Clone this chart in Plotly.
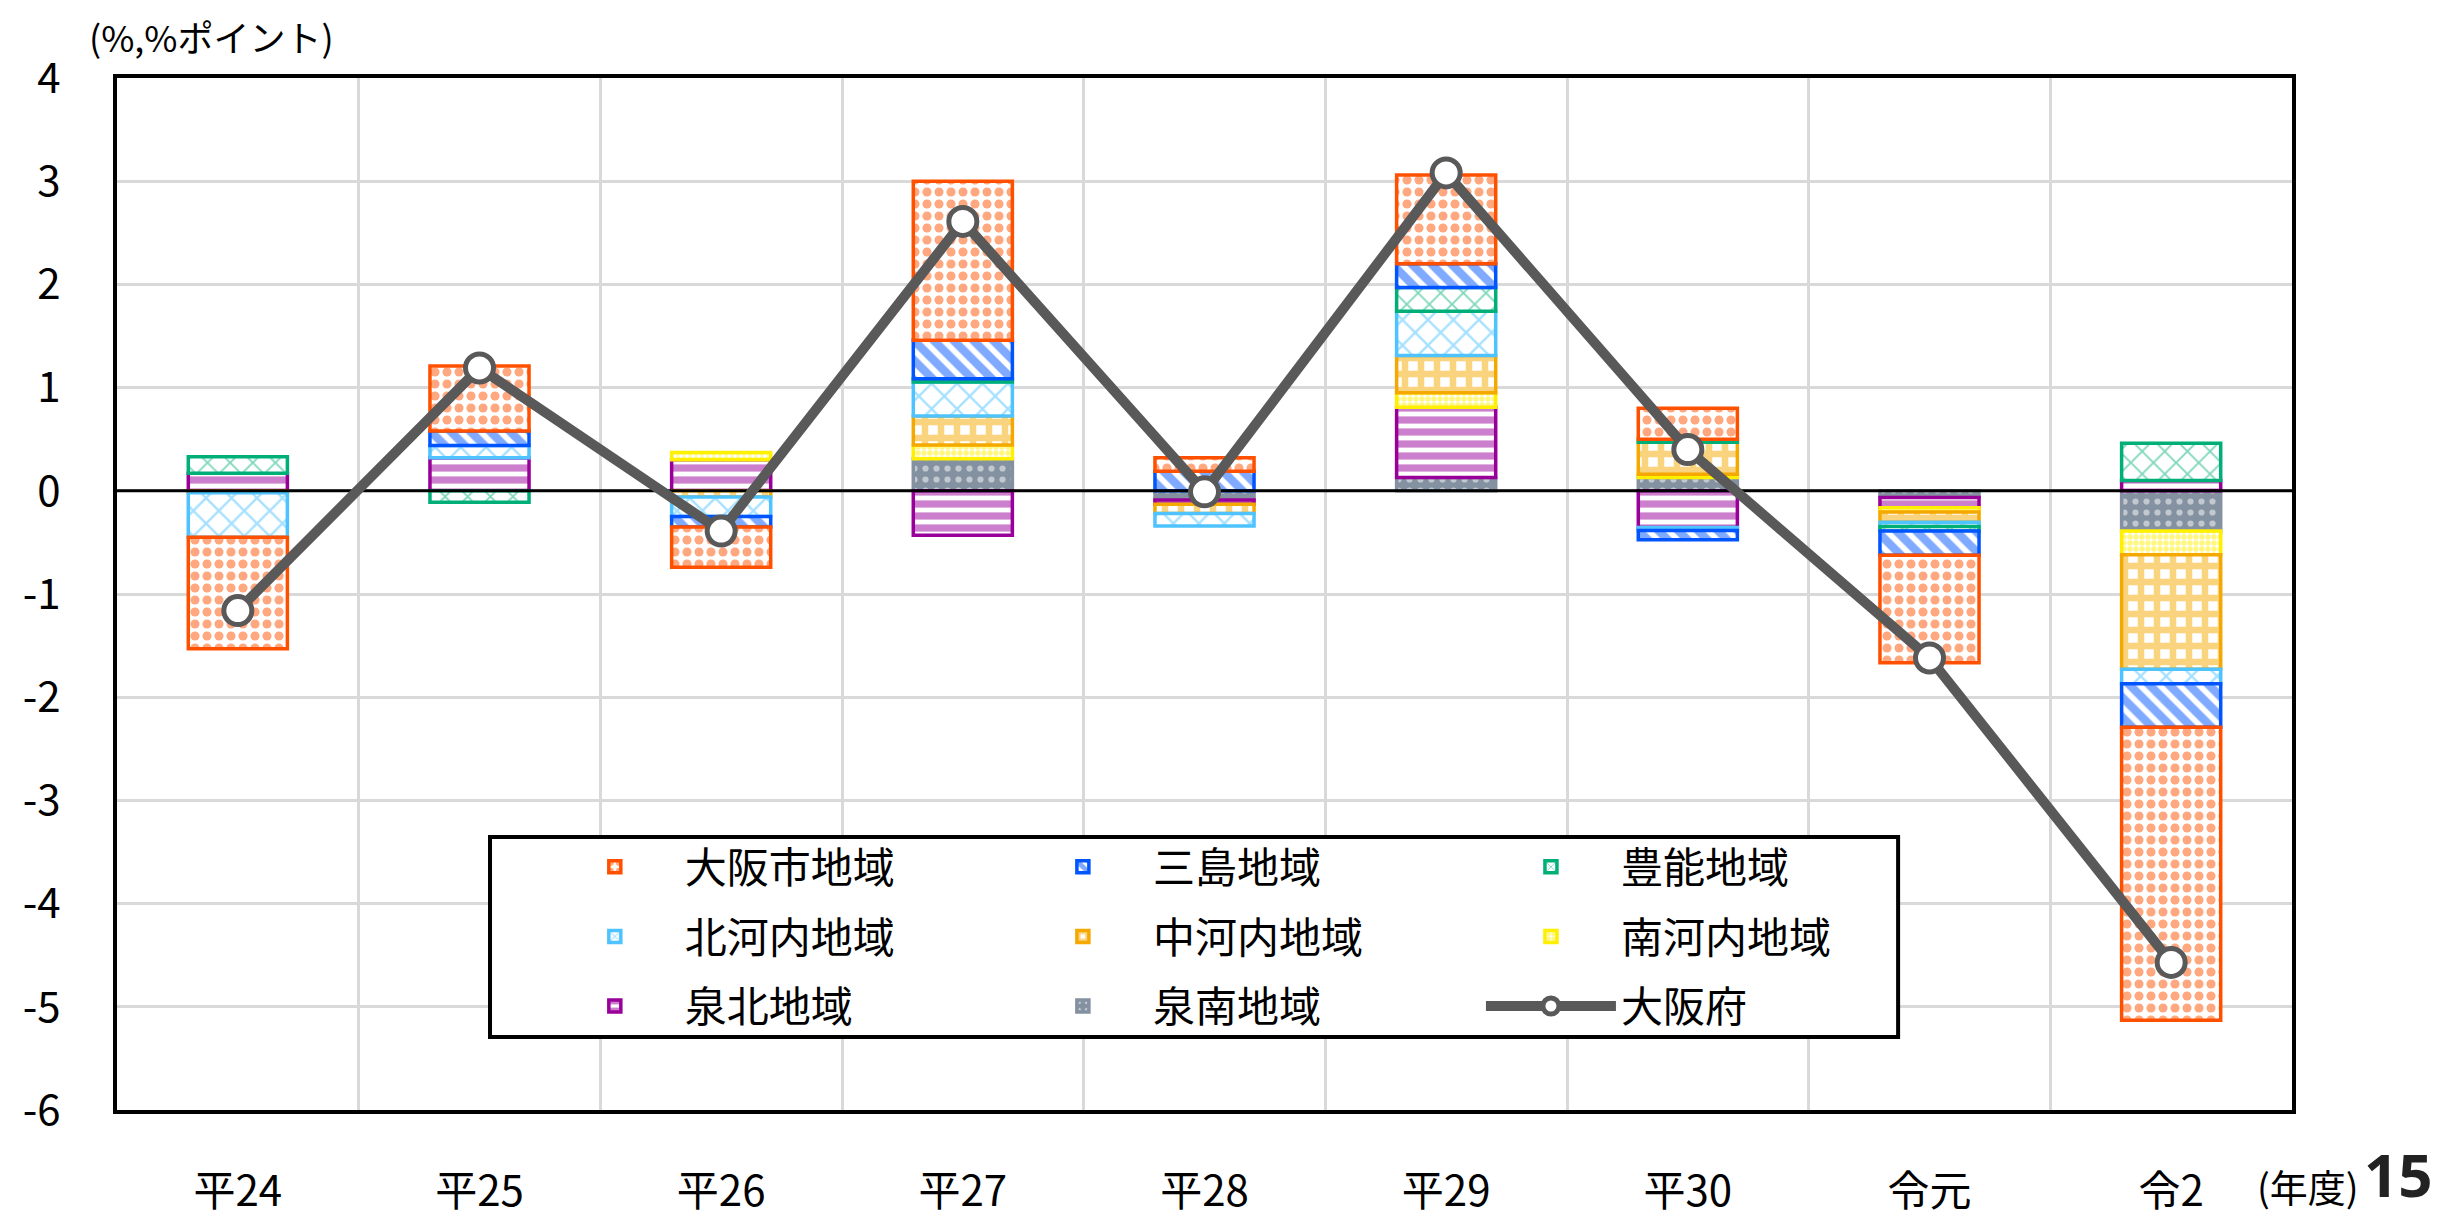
import plotly.graph_objects as go

years = ["平24", "平25", "平26", "平27", "平28", "平29", "平30", "令元", "令2"]

osaka_city    = [-1.08, 0.63, -0.39, 1.54, 0.13, 0.86, 0.30, -1.04, -2.84]
mishima       = [None, 0.14, -0.10, 0.375, 0.19, 0.23, -0.09, -0.235, -0.42]
toyono        = [0.16, -0.11, None, 0.03, None, 0.23, 0.03, -0.045, 0.36]
kitakawachi   = [-0.43, 0.12, -0.19, 0.33, -0.12, 0.43, -0.03, -0.04, -0.14]
nakakawachi   = [-0.02, None, -0.06, 0.28, -0.09, 0.36, 0.31, -0.10, -1.11]
minamikawachi = [None, None, 0.07, 0.135, None, 0.14, 0.03, -0.04, -0.23]
senboku       = [0.17, 0.32, 0.30, -0.43, -0.04, 0.68, -0.355, -0.10, 0.10]
sennan        = [None, None, None, 0.31, -0.09, 0.13, 0.13, -0.065, -0.39]
osaka_pref    = [-1.16, 1.19, -0.39, 2.61, -0.01, 3.08, 0.40, -1.62, -4.57]

y_ticks = [4, 3, 2, 1, 0, -1, -2, -3, -4, -5, -6]

FONT = "Noto Sans CJK JP"
idx = list(range(len(years)))
x_range = [-0.5, len(years) - 0.5]

# stacking order from zero outward; (name, values, colour, pattern, legend column, rank)
series = [
    ("泉南地域", sennan, "#8491A0", dict(shape=".", fgcolor="white", fillmode="overlay", size=11, solidity=0.25), "legend2", 3),
    ("泉北地域", senboku, "#990099", dict(shape="-", fgcolor="#990099", bgcolor="white", size=12, solidity=0.6), "legend", 3),
    ("南河内地域", minamikawachi, "#FFF000", dict(shape=".", fgcolor="#FFF000", bgcolor="white", size=6, solidity=0.65), "legend3", 2),
    ("中河内地域", nakakawachi, "#F5A800", dict(shape="+", fgcolor="#F5A800", bgcolor="white", size=16, solidity=0.65), "legend2", 2),
    ("北河内地域", kitakawachi, "#4FC3FF", dict(shape="x", fgcolor="#4FC3FF", bgcolor="white", size=18, solidity=0.25), "legend", 2),
    ("豊能地域", toyono, "#00AF78", dict(shape="x", fgcolor="#00AF78", bgcolor="white", size=16, solidity=0.22), "legend3", 1),
    ("三島地域", mishima, "#0055FF", dict(shape="\\", fgcolor="#0055FF", bgcolor="white", size=14, solidity=0.6), "legend2", 1),
    ("大阪市地域", osaka_city, "#FF5000", dict(shape=".", fgcolor="#FF5000", bgcolor="white", size=12, solidity=0.45), "legend", 1),
]

fig = go.Figure()
for name, vals, color, pat, leg, rank in series:
    fig.add_trace(go.Bar(
        x=idx, y=vals, name=name, width=0.41,
        marker=dict(color=color, pattern=pat, line=dict(color=color, width=3.5)),
        legend=leg, legendrank=rank, legendgroup=name,
    ))

# zero reference line above the bars
fig.add_trace(go.Scatter(
    x=x_range, y=[0, 0], mode="lines", line=dict(color="black", width=3),
    showlegend=False, hoverinfo="skip",
))

fig.add_trace(go.Scatter(
    x=idx, y=osaka_pref, name="大阪府", mode="lines+markers",
    line=dict(color="#595959", width=10),
    marker=dict(size=28, color="white", line=dict(color="#595959", width=5)),
    legend="legend3", legendrank=3, legendgroup="大阪府",
))

LEG_FONT = dict(family=FONT, size=42, color="black")
LEG_Y = 0.2684


def leg(x):
    return dict(
        orientation="v", x=x, y=LEG_Y, xanchor="left", yanchor="top",
        bgcolor="rgba(0,0,0,0)", borderwidth=0, font=LEG_FONT,
        tracegroupgap=12, traceorder="grouped", itemwidth=130,
    )


# the page body adds an 8px offset, so the figure is sized/margined to compensate
fig.update_layout(
    width=2437, height=1210,
    margin=dict(l=109, r=153, t=70, b=108, autoexpand=False),
    barmode="relative",
    plot_bgcolor="white", paper_bgcolor="white",
    font=dict(family=FONT, size=42, color="black"),
    showlegend=True,
    legend=leg(0.1967),
    legend2=leg(0.4119),
    legend3=leg(0.6271),
    xaxis=dict(
        range=x_range, tickmode="array", tickvals=idx, ticktext=years,
        showgrid=False, zeroline=False, automargin=False,
        showline=True, mirror=True, linecolor="black", linewidth=4,
        ticks="", ticklabelstandoff=42,
        minor=dict(tick0=0.5, dtick=1, showgrid=True, gridcolor="#D9D9D9", gridwidth=3),
        tickfont=dict(family=FONT, size=42),
    ),
    yaxis=dict(
        range=[-6, 4], tickmode="array", tickvals=y_ticks,
        ticktext=[str(v) for v in y_ticks],
        showgrid=True, gridcolor="#D9D9D9", gridwidth=3, zeroline=False, automargin=False,
        showline=True, mirror=True, linecolor="black", linewidth=4,
        ticks="", ticklabelstandoff=44,
        tickfont=dict(family=FONT, size=42),
    ),
    shapes=[
        # legend frame
        dict(type="rect", xref="paper", yref="paper", x0=0.1715, x1=0.8189, y0=0.0707, y1=0.2645,
             line=dict(color="black", width=4), fillcolor="white", layer="above"),
    ],
    annotations=[
        dict(text="(%,%ポイント)", xref="paper", yref="paper", x=-0.014, y=1.041,
             xanchor="left", yanchor="middle", showarrow=False,
             font=dict(family=FONT, size=36)),
        dict(text="(年度)", xref="paper", yref="paper", x=0.9832, y=-0.0736,
             xanchor="left", yanchor="middle", showarrow=False,
             font=dict(family=FONT, size=38)),
        dict(text="<b>15</b>", xref="paper", yref="paper", x=1.0322, y=-0.062,
             xanchor="left", yanchor="middle", showarrow=False,
             font=dict(family="Noto Sans", size=60, color="#222222")),
    ],
)

fig.write_html("out.html")
